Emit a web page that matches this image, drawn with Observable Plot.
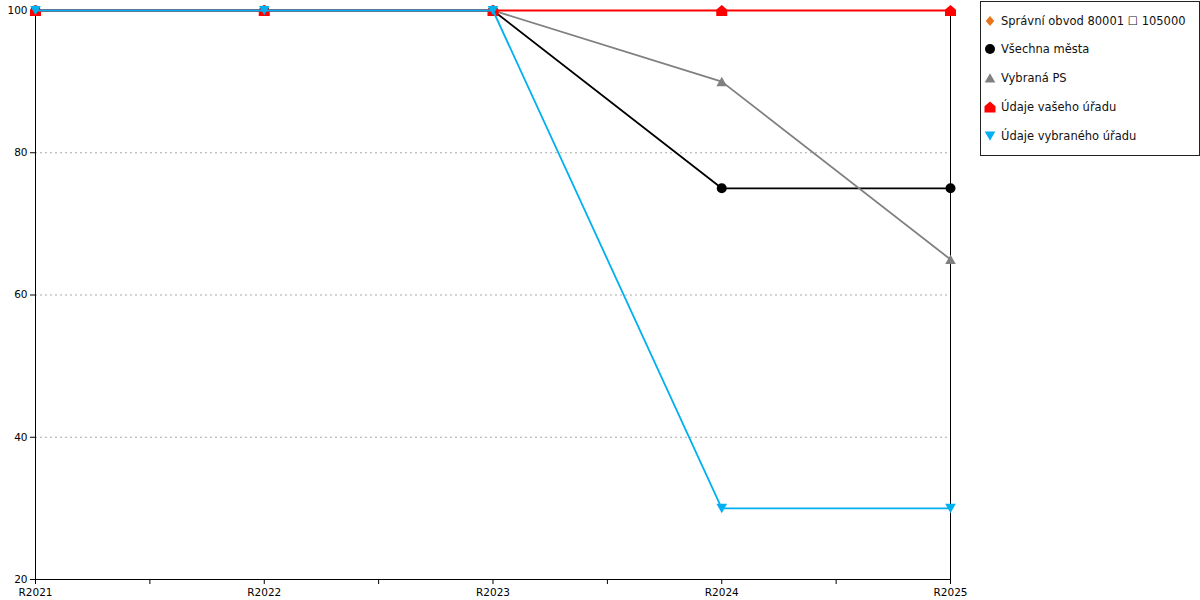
<!DOCTYPE html>
<html>
<head>
<meta charset="utf-8">
<script src="https://cdn.jsdelivr.net/npm/d3@7"></script>
<script src="https://cdn.jsdelivr.net/npm/@observablehq/plot@0.6"></script>
<style>
  html, body { margin: 0; padding: 0; background: #fff; }
  #wrap { position: relative; width: 1200px; height: 600px; font-family: "DejaVu Sans", sans-serif; }
  #chart { position: absolute; left: 0; top: 0; }
  #legend { position: absolute; left: 980px; top: 1px; width: 220px; height: 155px; border: 1px solid #222; box-sizing: border-box; background: #fff; }
  .item { position: absolute; left: 0; height: 20px; display: flex; align-items: center; font-size: 11.5px; color: #111; white-space: nowrap; }
  .item svg { margin-left: 2px; margin-right: 4px; }
</style>
</head>
<body>
<div id="wrap"><div id="chart"></div><div id="legend"></div></div>
<script>
const categories = ["R2021", "R2022", "R2023", "R2024", "R2025"];
const seriesNames = ["Správní obvod 80001 \u2610 105000", "Všechna města", "Vybraná PS", "Údaje vašeho úřadu", "Údaje vybraného úřadu"];
const spravniObvod = [null, null, null, null, null];
const vsechnaMesta = [100, 100, 100, 75, 75];
const vybranaPS = [100, 100, 100, 90, 65];
const vasUrad = [100, 100, 100, 100, 100];
const vybranyUrad = [100, 100, 100, 30, 30];
const yTicks = [20, 40, 60, 80, 100];
const colors = ["#e8731a", "#000000", "#808080", "#ff0000", "#00b0f0"];

const seriesValues = [spravniObvod, vsechnaMesta, vybranaPS, vasUrad, vybranyUrad];

const R = (size) => Math.sqrt(size / Math.PI);
const diamondSym = { draw(c, s) { const r = R(s); c.moveTo(0, -r); c.lineTo(r * 0.85, 0); c.lineTo(0, r); c.lineTo(-r * 0.85, 0); c.closePath(); } };
const circleSym = { draw(c, s) { const r = R(s); c.moveTo(r, 0); c.arc(0, 0, r, 0, 2 * Math.PI); c.closePath(); } };
const triUpSym = { draw(c, s) { const r = R(s); c.moveTo(0, -r * 0.9); c.lineTo(r, r * 0.85); c.lineTo(-r, r * 0.85); c.closePath(); } };
const houseSym = { draw(c, s) { const r = R(s); c.moveTo(0, -r); c.lineTo(r, -r * 0.15); c.lineTo(r, r); c.lineTo(-r, r); c.lineTo(-r, -r * 0.15); c.closePath(); } };
const triDownSym = { draw(c, s) { const r = R(s); c.moveTo(-r, -r * 0.85); c.lineTo(r, -r * 0.85); c.lineTo(0, r * 0.9); c.closePath(); } };
const symbols = [diamondSym, circleSym, triUpSym, houseSym, triDownSym];
const radii = [5, 5, 5.3, 5.5, 5.3];

const rows = [];
seriesValues.forEach((vals, si) => {
  vals.forEach((v, i) => rows.push({ series: si, xi: i, value: v }));
});

const xTicks = d3.range(0, categories.length - 1 + 0.01, 0.5);

const marks = [
  Plot.gridY(yTicks.filter(d => d !== 20 && d !== 100), { stroke: "#aaa", strokeOpacity: 1, strokeDasharray: "2,3" }),
  Plot.frame({ stroke: "#000", strokeWidth: 1 }),
  Plot.axisY({ ticks: yTicks, tickSize: 5, tickPadding: 3, fontSize: 10.5, stroke: "#000" }),
  Plot.axisX({ ticks: xTicks, tickSize: 5, tickPadding: 4, fontSize: 10.5, tickFormat: d => Number.isInteger(d) ? categories[d] : "" })
];
seriesValues.forEach((vals, si) => {
  const data = rows.filter(r => r.series === si);
  marks.push(Plot.line(data, { x: "xi", y: "value", stroke: colors[si], strokeWidth: 1.8 }));
  marks.push(Plot.dot(data.filter(d => d.value != null), { x: "xi", y: "value", symbol: symbols[si], r: radii[si], fill: colors[si], stroke: "none" }));
});

const chart = Plot.plot({
  width: 975,
  height: 600,
  marginTop: 10,
  marginRight: 25,
  marginBottom: 21,
  marginLeft: 35,
  style: { fontFamily: "DejaVu Sans, sans-serif", fontSize: "10.5px", color: "#000", background: "#fff" },
  x: { type: "linear", domain: [0, categories.length - 1], label: null },
  y: { domain: [20, 100], label: null },
  marks
});
document.getElementById("chart").appendChild(chart);

// Legend
const legend = document.getElementById("legend");
const rowTops = [9, 37, 66, 95, 124];
seriesNames.forEach((name, i) => {
  const item = document.createElement("div");
  item.className = "item";
  item.style.top = rowTops[i] + "px";
  const svg = d3.create("svg").attr("width", 14).attr("height", 14);
  const p = d3.path();
  symbols[i].draw(p, radii[i] * radii[i] * Math.PI);
  svg.append("path").attr("transform", "translate(7,7)").attr("d", p.toString()).attr("fill", colors[i]);
  item.appendChild(svg.node());
  const span = document.createElement("span");
  span.textContent = name;
  item.appendChild(span);
  legend.appendChild(item);
});
</script>
</body>
</html>
